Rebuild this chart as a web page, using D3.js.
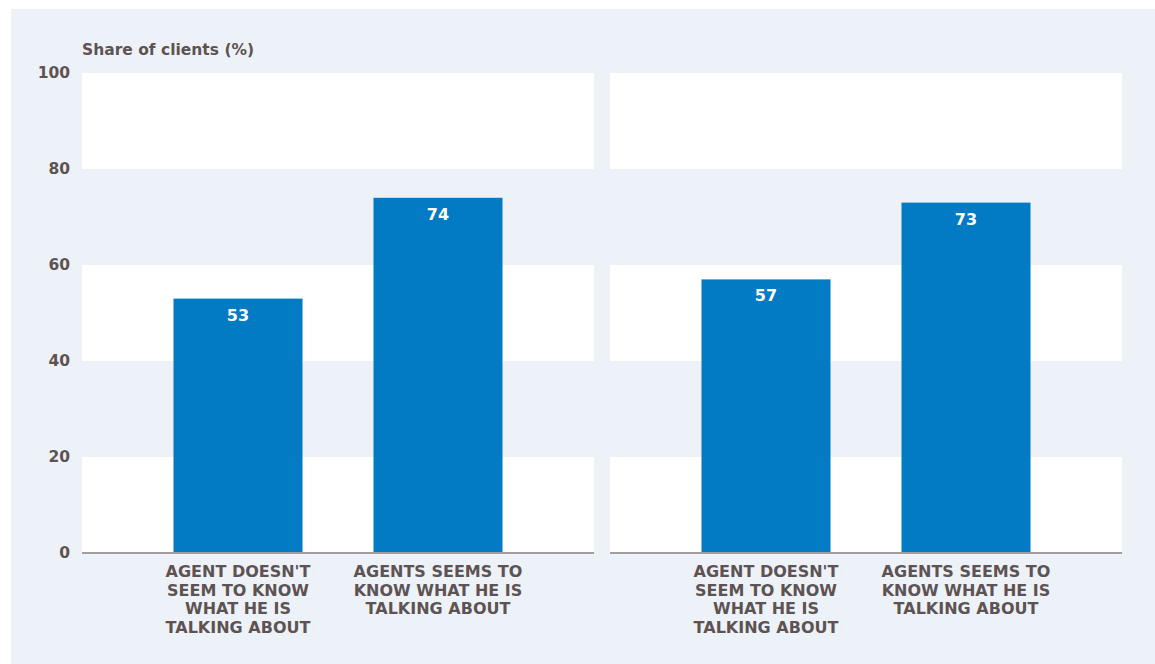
<!DOCTYPE html>
<html>
<head>
<meta charset="utf-8">
<script src="https://cdn.jsdelivr.net/npm/d3@7"></script>
<style>
  html, body { margin: 0; padding: 0; background: #ffffff; }
  svg { display: block; }
  text { font-family: "DejaVu Sans", sans-serif; font-weight: 700; }
</style>
</head>
<body>
<svg id="chart" width="1155" height="664"></svg>
<script>
// ---- data ----
const categories = [
  ["AGENT DOESN'T", "SEEM TO KNOW", "WHAT HE IS", "TALKING ABOUT"],
  ["AGENTS SEEMS TO", "KNOW WHAT HE IS", "TALKING ABOUT"]
];
const panelLeftValues = [53, 74];
const panelRightValues = [57, 73];
const yTicks = [0, 20, 40, 60, 80, 100];
const yTitle = "Share of clients (%)";

// ---- layout ----
const W = 1155, H = 664;
const bgColor = "#edf2f9";
const barColor = "#037bc4";
const textColor = "#5e5252";
const axisColor = "#a39d9d";

const svg = d3.select("#chart");
svg.append("rect").attr("x", 11).attr("y", 9).attr("width", W - 11).attr("height", H - 9).attr("fill", bgColor);

const y = d3.scaleLinear().domain([0, 100]).range([553, 73]);

const panels = [
  { values: panelLeftValues, x0: 82, x1: 594 },
  { values: panelRightValues, x0: 610, x1: 1122 }
];

// title
svg.append("text")
  .attr("x", 82).attr("y", 55)
  .attr("fill", textColor)
  .attr("font-size", 15.5)
  .text(yTitle);

// y axis labels
const yAxis = d3.axisLeft(y).tickValues(yTicks).tickSize(0).tickPadding(12).tickFormat(d3.format("d"));
const yg = svg.append("g").attr("transform", "translate(82,0)").call(yAxis);
yg.select(".domain").remove();
yg.selectAll("text")
  .attr("fill", textColor)
  .attr("font-size", 15.5)
  .attr("font-weight", 700)
  .attr("font-family", "DejaVu Sans, sans-serif");

const idx = categories.map((c, i) => i);

panels.forEach(p => {
  const g = svg.append("g");
  // alternating white bands
  const bands = d3.pairs(yTicks).filter((d, i) => i % 2 === 0);
  g.selectAll("rect.band").data(bands).join("rect")
    .attr("class", "band")
    .attr("x", p.x0).attr("width", p.x1 - p.x0)
    .attr("y", d => y(d[1])).attr("height", d => y(d[0]) - y(d[1]))
    .attr("fill", "#ffffff");

  const x = d3.scaleBand().domain(idx).range([p.x0, p.x1])
    .paddingInner(0.355).paddingOuter(0.4575);

  g.selectAll("rect.bar").data(p.values).join("rect")
    .attr("class", "bar")
    .attr("x", (d, i) => x(i)).attr("width", x.bandwidth())
    .attr("y", d => y(d)).attr("height", d => y(0) - y(d))
    .attr("fill", barColor);

  g.selectAll("text.val").data(p.values).join("text")
    .attr("class", "val")
    .attr("x", (d, i) => x(i) + x.bandwidth() / 2)
    .attr("y", d => y(d) + 22)
    .attr("text-anchor", "middle")
    .attr("fill", "#ffffff")
    .attr("font-size", 16)
    .text(d => d);

  // x axis baseline
  const xAxis = d3.axisBottom(x).tickSize(0).tickFormat("");
  const xg = g.append("g").attr("transform", `translate(0,${y(0)})`).call(xAxis);
  xg.select(".domain").attr("stroke", axisColor).attr("stroke-width", 2)
    .attr("d", `M${p.x0},0H${p.x1}`);
  xg.selectAll(".tick text").remove();

  // category labels
  categories.forEach((lines, i) => {
    const t = g.append("text")
      .attr("x", x(i) + x.bandwidth() / 2)
      .attr("y", 577)
      .attr("text-anchor", "middle")
      .attr("fill", textColor)
      .attr("font-size", 16);
    lines.forEach((ln, k) => {
      t.append("tspan").attr("x", x(i) + x.bandwidth() / 2).attr("y", 577 + k * 18.5).text(ln);
    });
  });
});
</script>
</body>
</html>
